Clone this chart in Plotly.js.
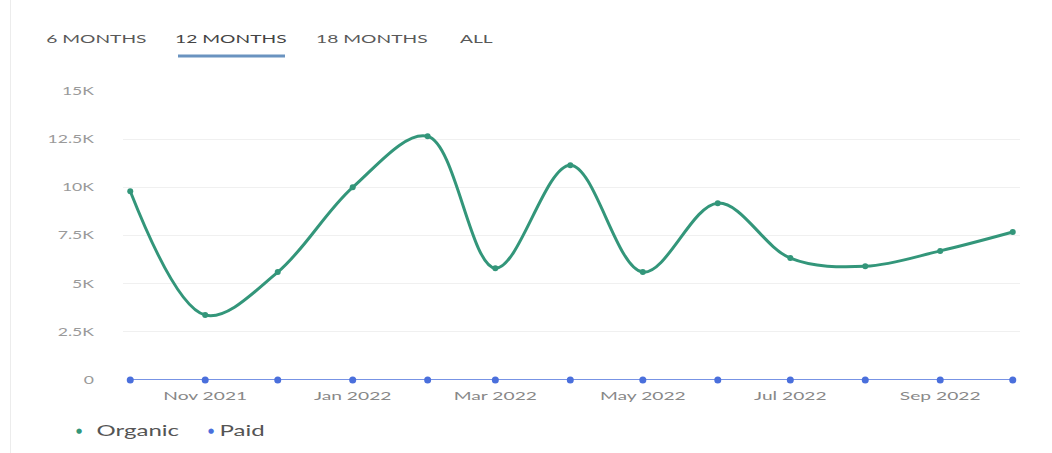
<!DOCTYPE html>
<html>
<head>
<meta charset="utf-8">
<script src="https://cdn.plot.ly/plotly-3.0.1.min.js"></script>
<style>
html,body{margin:0;padding:0;background:#fff;}
#wrap{position:relative;width:1052px;height:453px;}
#chart{width:1052px;height:453px;}
#edge{position:absolute;left:10px;top:0;width:1px;height:453px;background:#ececec;z-index:2;}
</style>
</head>
<body>
<div id="wrap"><div id="edge"></div><div id="chart"></div></div>
<script>
const months = ['2021-10-01','2021-11-01','2021-12-01','2022-01-01','2022-02-01','2022-03-01','2022-04-01','2022-05-01','2022-06-01','2022-07-01','2022-08-01','2022-09-01','2022-10-01'];
const organic = [9800, 3370, 5600, 10000, 12650, 5800, 11150, 5600, 9180, 6330, 5900, 6700, 7680];
const paid = [0, 0, 0, 0, 0, 0, 0, 0, 0, 0, 0, 0, 0];
const yTickVals = [0, 2500, 5000, 7500, 10000, 12500, 15000];
const yTickText = ['0', '2.5K', '5K', '7.5K', '10K', '12.5K', '15K'];
const xTickVals = ['2021-11-01','2022-01-01','2022-03-01','2022-05-01','2022-07-01','2022-09-01'];
const xTickText = ['Nov 2021','Jan 2022','Mar 2022','May 2022','Jul 2022','Sep 2022'];
const tabs = ['6 MONTHS', '12 MONTHS', '18 MONTHS', 'ALL'];
const seriesNames = ['Organic', 'Paid'];
const seriesColors = ['#33967a', '#4a6fdc'];

const L = 123, R = 32, T = 91, B = 73, W = 1052, H = 453;
const pw = W - L - R, ph = H - T - B;
const px = v => (v - L) / pw;
const py = v => (H - B - v) / ph;

const tabX = [96, 231, 372, 476];
const annotations = tabs.map((t, i) => ({
  text: t, xref: 'paper', yref: 'paper', x: px(tabX[i]), y: py(39),
  xanchor: 'center', yanchor: 'middle', showarrow: false,
  font: {family: 'Lato, sans-serif', size: 12, color: i === 1 ? '#444' : '#595959'}
}));
const legDotX = [79, 211], legTextX = [138, 242];
seriesNames.forEach((n, i) => {
  annotations.push({text: '●', xref: 'paper', yref: 'paper', x: px(legDotX[i]), y: py(431),
    xanchor: 'center', yanchor: 'middle', showarrow: false,
    font: {family: 'DejaVu Sans, sans-serif', size: 7, color: seriesColors[i]}});
  annotations.push({text: n, xref: 'paper', yref: 'paper', x: px(legTextX[i]), y: py(430),
    xanchor: 'center', yanchor: 'middle', showarrow: false,
    font: {family: 'Lato, sans-serif', size: 15, color: '#555'}});
});

const data = [
  {x: months, y: organic, name: seriesNames[0], type: 'scatter', mode: 'lines+markers',
   line: {shape: 'spline', smoothing: 1, color: seriesColors[0], width: 3},
   marker: {color: seriesColors[0], size: 6}, cliponaxis: false},
  {x: months, y: paid, name: seriesNames[1], type: 'scatter', mode: 'lines+markers',
   line: {color: seriesColors[1], width: 1.5},
   marker: {color: seriesColors[1], size: 7}, cliponaxis: false}
];

const layout = {
  width: W, height: H,
  margin: {l: L, r: R, t: T, b: B},
  paper_bgcolor: '#fff', plot_bgcolor: '#fff',
  font: {family: 'Lato, sans-serif', color: '#888'},
  showlegend: false,
  xaxis: {type: 'date', range: ['2021-09-28', '2022-10-04'], automargin: false,
    tickvals: xTickVals, ticktext: xTickText, showgrid: false, zeroline: false,
    showline: false, ticks: '', ticklabelstandoff: 7, tickfont: {size: 12, color: '#888'}},
  yaxis: {range: [0, 15000], tickvals: yTickVals, ticktext: yTickText, automargin: false,
    gridcolor: '#f0f0f0', gridwidth: 1, zeroline: false, showline: false,
    ticks: '', ticklabelstandoff: 28, tickfont: {size: 11, color: '#9a9a9a'}},
  annotations: annotations,
  shapes: [{type: 'line', xref: 'paper', yref: 'paper',
    x0: px(178), x1: px(285), y0: py(56), y1: py(56),
    line: {color: '#6a93c0', width: 3}}]
};

Plotly.newPlot('chart', data, layout, {displayModeBar: false, staticPlot: true}).then(() => {
  document.querySelectorAll('#chart svg text').forEach(t => {
    if (t.textContent === '●') return;
    const w = t.getComputedTextLength();
    if (w > 0) {
      t.setAttribute('textLength', (w * 1.6).toFixed(1));
      t.setAttribute('lengthAdjust', 'spacingAndGlyphs');
    }
  });
});
</script>
</body>
</html>
